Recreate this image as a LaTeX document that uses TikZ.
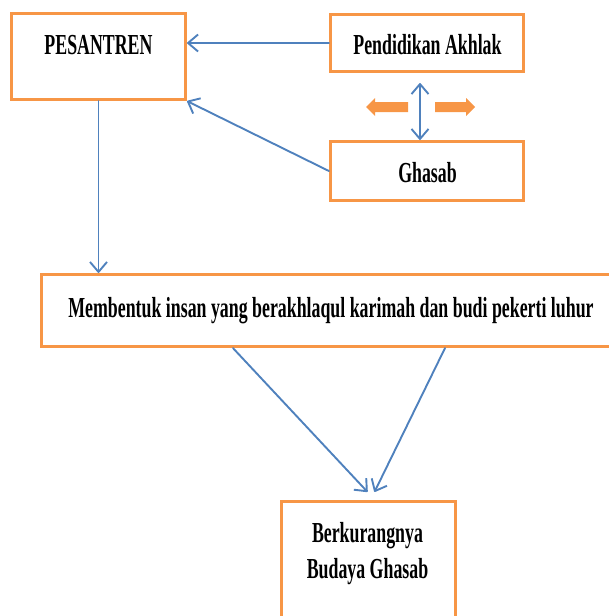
\documentclass[tikz,border=0pt]{standalone}
\usepackage{fontspec}
\setmainfont{Liberation Serif}[FakeStretch=0.615]
\usetikzlibrary{arrows.meta}
\definecolor{boxorange}{HTML}{F79646}
\definecolor{linkblue}{HTML}{4F81BD}
\begin{document}
\begin{tikzpicture}[x=1pt,y=1pt,
  box/.style={draw=boxorange, line width=3.2pt, rectangle, inner sep=0pt, fill=white},
  txt/.style={font=\fontsize{29}{36}\selectfont\bfseries, inner sep=0pt, anchor=base},
  link/.style={draw=linkblue, line width=1.9pt, line join=round, line cap=round, -{Straight Barb[length=10pt,width=17pt,line join=round]}},
  blockarrow/.style={fill=boxorange}]
\useasboundingbox (0,0) rectangle (609,-616);
% boxes
\node[box, minimum width=174pt, minimum height=86pt] (pes) at (98.5,-56.5) {};
\node[box, minimum width=193pt, minimum height=57pt] (pen) at (427,-43) {};
\node[box, minimum width=193pt, minimum height=59pt] (gha) at (427,-171) {};
\node[box, minimum width=571pt, minimum height=72pt] (mem) at (327,-310.5) {};
\node[box, minimum width=174pt, minimum height=128.5pt] (ber) at (368.5,-565.75) {};
% texts
\node[txt] (pest) at (98.5,-54) {PESANTREN};
\node[txt] (pent) at (427.5,-54) {Pendidikan Akhlak};
\node[txt] (ghat) at (427.5,-182) {Ghasab};
\node[txt] (memt) at (331,-317) {Membentuk insan yang berakhlaqul karimah dan budi pekerti luhur};
\node[txt] (bert1) at (367.5,-542) {Berkurangnya};
\node[txt] (bert2) at (367.5,-578) {Budaya Ghasab};
% connectors
\draw[link] (pen.west) -- (pen.west -| pes.east);
\draw[link] (gha.west) -- (pes.south east);
\draw[link] (pes.south) -- (pes.south |- mem.north);
\draw[link, {Straight Barb[length=10pt,width=17pt,line join=round]}-{Straight Barb[length=10pt,width=17pt,line join=round]}]
  ([xshift=-7pt]gha.north) -- ([xshift=-7pt,yshift=-10pt]pen.south);
\draw[link] ([xshift=-94pt]mem.south) -- ([xshift=-1pt,yshift=8pt]ber.north);
\draw[link] ([xshift=118pt]mem.south) -- ([xshift=6pt,yshift=8pt]ber.north);
% orange block arrows
\fill[blockarrow] (366,-107) -- (375,-98) -- (375,-102) -- (408,-102) -- (408,-112) -- (375,-112) -- (375,-116) -- cycle;
\fill[blockarrow] (475,-107) -- (466,-98) -- (466,-102) -- (435,-102) -- (435,-112) -- (466,-112) -- (466,-116) -- cycle;
\end{tikzpicture}
\end{document}
